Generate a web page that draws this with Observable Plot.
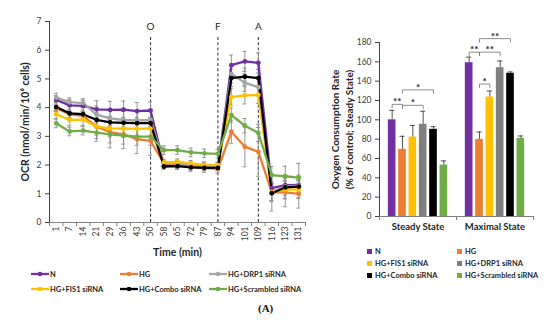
<!DOCTYPE html>
<html><head><meta charset="utf-8">
<script src="https://cdn.jsdelivr.net/npm/d3@7"></script>
<script src="https://cdn.jsdelivr.net/npm/@observablehq/plot@0.6"></script>
<style>
body{margin:0;background:#fff;font-family:Lato,sans-serif;}
#wrap{position:relative;width:550px;height:320px;overflow:hidden;background:#fff}
#left{position:absolute;left:0;top:0}
#right{position:absolute;left:320px;top:0}
.leg{position:absolute;font:bold 7.5px Lato,sans-serif;color:#262626;white-space:nowrap;display:flex;align-items:center;height:10px}
.leg svg{display:block;margin-right:1px}
.sq{display:inline-block;width:5px;height:5px;margin-right:3px}
#cap{position:absolute;left:258px;top:302px;font:bold 11px "Liberation Serif",serif;color:#111}
#right g[aria-label^="fx-axis"] text{font-weight:bold;font-size:9.5px;fill:#262626}
</style></head>
<body><div id="wrap"><div id="left"></div><div id="right"></div><div id="cap">(A)</div></div>
<script>
// ---- Line chart data (OCR, nmol/min/10^6 cells) ----
const times = [1,7,14,21,29,36,43,50,58,65,72,79,87,94,101,109,116,123,131];
const seriesNames = ["N","HG","HG+DRP1 siRNA","HG+FIS1 siRNA","HG+Combo siRNA","HG+Scrambled siRNA"];
const lineColors = ["#7030A0","#ED7D31","#A5A5A5","#FFC000","#000000","#70AD47"];
const ocrN     = [4.27,4.08,4.06,3.94,3.92,3.93,3.88,3.90, 1.98,2.00,1.95,1.93,1.93, 5.48,5.61,5.56, 1.20,1.30,1.31];
const ocrHG    = [3.98,3.77,3.71,3.33,3.15,3.07,2.90,2.84, 2.05,2.00,1.93,1.90,1.87, 3.16,2.64,2.46, 1.05,1.05,1.00];
const ocrDRP1  = [4.35,4.19,4.16,3.76,3.63,3.57,3.56,3.57, 2.07,2.05,2.00,1.98,1.97, 5.17,4.87,4.71, 1.06,1.25,1.28];
const ocrFIS1  = [3.77,3.57,3.58,3.34,3.28,3.27,3.27,3.27, 2.09,2.11,2.06,2.01,2.00, 4.37,4.43,4.44, 1.06,1.15,1.15];
const ocrCombo = [4.02,3.80,3.77,3.57,3.49,3.47,3.46,3.46, 1.95,1.96,1.92,1.90,1.90, 5.03,5.08,5.03, 1.02,1.22,1.25];
const ocrScr   = [3.45,3.17,3.20,3.13,3.07,3.03,2.99,2.99, 2.52,2.52,2.44,2.41,2.39, 3.74,3.37,3.12, 1.65,1.61,1.56];
const errN     = [0.15,0.20,0.20,0.30,0.30,0.30,0.30,0.30, 0.10,0.10,0.10,0.10,0.10, 0.35,0.35,0.35, 0.20,0.15,0.15];
const errHG    = [0.10,0.15,0.15,0.50,0.55,0.50,0.50,0.50, 0.10,0.15,0.15,0.15,0.15, 0.40,0.70,0.85, 0.65,0.50,0.50];
const errDRP1  = [0.15,0.15,0.15,0.30,0.30,0.30,0.30,0.30, 0.10,0.10,0.10,0.10,0.10, 0.30,0.30,0.30, 0.30,0.30,0.30];
const errFIS1  = [0.15,0.20,0.20,0.30,0.30,0.30,0.30,0.30, 0.10,0.10,0.10,0.10,0.10, 0.30,0.30,0.30, 0.30,0.30,0.30];
const errCombo = [0.15,0.15,0.15,0.20,0.20,0.20,0.20,0.20, 0.10,0.10,0.10,0.10,0.10, 0.30,0.30,0.30, 0.30,0.40,0.40];
const errScr   = [0.15,0.15,0.15,0.20,0.30,0.30,0.30,0.30, 0.15,0.15,0.15,0.15,0.15, 0.25,0.25,0.30, 0.30,0.35,0.50];
const eventTimes = [50,87,109];
const eventLabels = ["O","F","A"];
const yTicksLeft = [0,1,2,3,4,5,6,7];

// ---- Bar chart data (% of control; steady state) ----
const states = ["Steady State","Maximal State"];
const barSeries = ["N","HG","HG+FIS1 siRNA","HG+DRP1 siRNA","HG+Combo siRNA","HG+Scrambled siRNA"];
const barColors = ["#7030A0","#ED7D31","#FFC000","#7F7F7F","#000000","#70AD47"];
const steadyVals  = [100, 69.5, 82.2, 95.4, 90.2, 53.2];
const steadyErr   = [9.8, 13.5, 12.0, 13.5, 2.7, 4.3];
const maximalVals = [159.1, 79.8, 123.6, 153.9, 148.1, 80.9];
const maximalErr  = [5.8, 7.6, 6.2, 7.0, 1.4, 2.4];
const yTicksRight = [0,20,40,60,80,100,120,140,160,180];
const sigState = ["Steady State","Steady State","Steady State","Maximal State","Maximal State","Maximal State","Maximal State"];
const sigFrom  = ["N","HG","HG","N","HG","HG","HG"];
const sigTo    = ["HG","HG+DRP1 siRNA","HG+Combo siRNA","HG","HG+DRP1 siRNA","HG+Combo siRNA","HG+FIS1 siRNA"];
const sigLevel = [116,115,131,170,170,184,137];
const sigLabel = ["**","*","*","**","**","**","*"];

// ---------- Line chart ----------
const ocr = [ocrN, ocrHG, ocrDRP1, ocrFIS1, ocrCombo, ocrScr];
const errs = [errN, errHG, errDRP1, errFIS1, errCombo, errScr];
const rows = seriesNames.flatMap((s, k) => times.map((t, i) => ({series: s, i, t, v: ocr[k][i], e: errs[k][i]})));
const events = eventTimes.map((t, j) => ({i: times.indexOf(t), label: eventLabels[j]}));
const idx = times.map((t, i) => i);
const bounds = [...idx.map(i => i - 0.5), idx.length - 0.5];

const left = Plot.plot({
  width: 320, height: 260,
  marginLeft: 49, marginRight: 15, marginTop: 21, marginBottom: 38,
  style: {fontFamily: "Lato, sans-serif", fontSize: "8.5px", color: "#404040", background: "white"},
  x: {domain: [-0.5, times.length - 0.5], ticks: idx, tickFormat: i => times[i], tickRotate: -90, tickSize: 0, tickPadding: 4, label: null},
  y: {domain: [0, 7], ticks: yTicksLeft, tickFormat: d => String(d), tickSize: 4, tickPadding: 4, line: true, label: null},
  color: {domain: seriesNames, range: lineColors},
  marks: [
    Plot.ruleY([0], {stroke: "#808080"}),
    Plot.ruleX(bounds, {x: d => d, y1: 0, y2: -0.14, stroke: "#808080"}),
    Plot.ruleX(events, {x: "i", y1: 0, y2: 6.5, stroke: "#404040", strokeDasharray: "3,2.2", strokeWidth: 1.1}),
    Plot.text(events, {x: "i", y: 6.8, text: "label", fontSize: 10, fill: "#262626"}),
    Plot.ruleX(rows, {x: "i", y1: d => d.v - d.e, y2: d => d.v + d.e, stroke: "#8c8c8c", strokeWidth: 0.9}),
    Plot.ruleY(rows, {x1: d => d.i - 0.15, x2: d => d.i + 0.15, y: d => d.v + d.e, stroke: "#8c8c8c", strokeWidth: 0.9}),
    Plot.ruleY(rows, {x1: d => d.i - 0.15, x2: d => d.i + 0.15, y: d => d.v - d.e, stroke: "#8c8c8c", strokeWidth: 0.9}),
    Plot.line(rows, {x: "i", y: "v", z: "series", stroke: "series", strokeWidth: 2.3}),
    Plot.dot(rows, {x: "i", y: "v", fill: "series", r: 2.4}),
    Plot.text(["OCR (nmol/min/10⁶ cells)"], {text: d => d, frameAnchor: "left", textAnchor: "middle", lineAnchor: "middle", dx: -24, rotate: -90, fontWeight: "bold", fontSize: 10.5, fill: "#262626"}),
    Plot.text(["Time (min)"], {text: d => d, frameAnchor: "bottom", lineAnchor: "middle", dy: 30, fontWeight: "bold", fontSize: 10.5, fill: "#262626"})
  ]
});
document.getElementById("left").appendChild(left);

// ---------- Bar chart ----------
const barVals = [steadyVals, maximalVals];
const barErrs = [steadyErr, maximalErr];
const barRows = states.flatMap((st, g) => barSeries.map((s, k) => ({state: st, series: s, k, v: barVals[g][k], e: barErrs[g][k]})));
const xPad = 0.725;
const sig = sigState.map((st, j) => ({state: st, a: barSeries.indexOf(sigFrom[j]), b: barSeries.indexOf(sigTo[j]), y: sigLevel[j], label: sigLabel[j], id: j}));
const legLen = 3.5;
const bracketPts = sig.flatMap(d => [
  {state: d.state, id: d.id, x: d.a, y: d.y - legLen},
  {state: d.state, id: d.id, x: d.a, y: d.y},
  {state: d.state, id: d.id, x: d.b, y: d.y},
  {state: d.state, id: d.id, x: d.b, y: d.y - legLen}
]);

const right = Plot.plot({
  width: 230, height: 240,
  marginLeft: 58, marginRight: 17, marginTop: 42, marginBottom: 24,
  style: {fontFamily: "Lato, sans-serif", fontSize: "8.5px", color: "#404040", background: "white"},
  fx: {domain: states, padding: 0, label: null, tickSize: 0, tickPadding: 7},
  x: {domain: [-0.5 - xPad, barSeries.length - 0.5 + xPad], axis: null},
  y: {domain: [0, 180], ticks: yTicksRight, tickFormat: d => String(d), tickSize: 4, tickPadding: 4, line: true, label: null},
  color: {domain: barSeries, range: barColors},
  marks: [
    Plot.rect(barRows, {fx: "state", x1: d => d.k - 0.5, x2: d => d.k + 0.5, y1: 0, y2: "v", fill: "series", insetLeft: 1.35, insetRight: 1.35}),
    Plot.ruleX(barRows, {fx: "state", x: "k", y1: "v", y2: d => d.v + d.e, stroke: "#404040", strokeWidth: 0.9}),
    Plot.ruleY(barRows, {fx: "state", x1: d => d.k - 0.25, x2: d => d.k + 0.25, y: d => d.v + d.e, stroke: "#404040", strokeWidth: 0.9}),
    Plot.ruleY([0], {stroke: "#808080"}),
    Plot.ruleX([-0.5 - xPad, barSeries.length - 0.5 + xPad], {x: d => d, y1: 0, y2: -4.2, stroke: "#808080"}),
    Plot.line(bracketPts, {fx: "state", x: "x", y: "y", z: "id", stroke: "#7f7f7f", strokeWidth: 0.9}),
    Plot.text(sig, {fx: "state", x: d => (d.a + d.b) / 2, y: "y", text: "label", lineAnchor: "bottom", dy: 1, fontWeight: "bold", fontSize: 10, fill: "#262626"}),
    Plot.text(["Oxygen Consumption Rate\n(% of control; Steady State)"], {fx: () => states[0], text: d => d, frameAnchor: "left", textAnchor: "middle", lineAnchor: "middle", dx: -38, rotate: -90, fontWeight: "bold", fontSize: 10, lineHeight: 1.35, fill: "#262626"})
  ]
});
document.getElementById("right").appendChild(right);

// ---------- Legends (HTML) ----------
const wrap = document.getElementById("wrap");
const lineLegPos = [[31,269],[120,269],[209,269],[31,284],[120,284],[209,284]];
const lineLegOrder = ["N","HG","HG+DRP1 siRNA","HG+FIS1 siRNA","HG+Combo siRNA","HG+Scrambled siRNA"];
lineLegOrder.forEach((s, j) => {
  const c = lineColors[seriesNames.indexOf(s)];
  const el = document.createElement("div");
  el.className = "leg";
  el.style.left = lineLegPos[j][0] + "px";
  el.style.top = lineLegPos[j][1] + "px";
  el.innerHTML = `<svg width="18" height="8"><line x1="0" x2="18" y1="4" y2="4" stroke="${c}" stroke-width="2.3"/><circle cx="9" cy="4" r="2.3" fill="${c}"/></svg>`;
  el.appendChild(document.createTextNode(s));
  wrap.appendChild(el);
});
const barLegPos = [[367,246],[457,246],[367,258],[457,258],[367,270],[457,270]];
barSeries.forEach((s, j) => {
  const el = document.createElement("div");
  el.className = "leg";
  el.style.left = barLegPos[j][0] + "px";
  el.style.top = barLegPos[j][1] + "px";
  el.innerHTML = `<span class="sq" style="background:${barColors[j]}"></span>`;
  el.appendChild(document.createTextNode(s));
  wrap.appendChild(el);
});
</script></body></html>
